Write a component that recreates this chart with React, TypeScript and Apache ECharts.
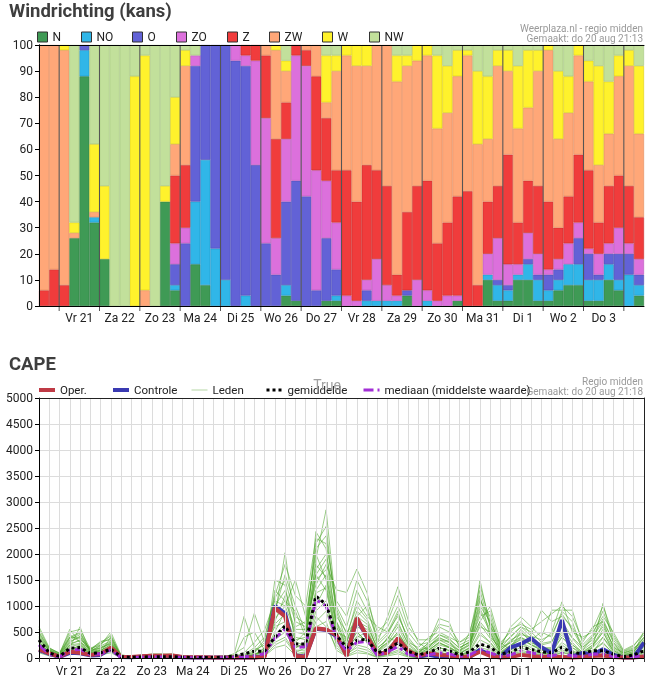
import React, { useEffect, useRef } from 'react';
import * as echarts from 'echarts';

const directionNames = ['N', 'NO', 'O', 'ZO', 'Z', 'ZW', 'W', 'NW'];
const dayLabels = ['Vr 21', 'Za 22', 'Zo 23', 'Ma 24', 'Di 25', 'Wo 26', 'Do 27', 'Vr 28', 'Za 29', 'Zo 30', 'Ma 31', 'Di 1', 'Wo 2', 'Do 3'];

// Windrichting: kans (%) per 6-uurs blok
const windN = [0, 0, 0, 26, 88, 32, 18, 0, 0, 0, 0, 0, 40, 6, 0, 16, 8, 0, 0, 0, 0, 0, 0, 0, 4, 2, 0, 0, 2, 2, 0, 0, 0, 0, 0, 0, 4, 0, 0, 0, 0, 2, 0, 0, 10, 2, 2, 10, 10, 2, 2, 6, 8, 8, 2, 2, 10, 6, 0, 4];
const windNO = [0, 0, 0, 0, 10, 2, 0, 0, 0, 0, 0, 0, 0, 2, 0, 24, 48, 22, 10, 0, 4, 0, 0, 0, 4, 0, 0, 0, 0, 2, 0, 0, 2, 2, 2, 2, 0, 0, 2, 0, 0, 0, 0, 0, 2, 6, 4, 2, 6, 8, 4, 4, 8, 8, 8, 8, 6, 4, 12, 4];
const windO = [0, 0, 0, 0, 2, 0, 0, 0, 0, 0, 0, 0, 0, 8, 24, 52, 44, 78, 90, 94, 88, 54, 24, 12, 32, 46, 42, 6, 24, 10, 0, 0, 4, 0, 0, 0, 2, 0, 0, 0, 0, 0, 0, 0, 0, 2, 2, 0, 2, 2, 6, 4, 0, 10, 10, 2, 4, 10, 8, 4];
const windZO = [0, 0, 0, 0, 0, 0, 0, 0, 0, 0, 0, 0, 0, 8, 6, 4, 0, 0, 0, 6, 4, 40, 48, 14, 24, 48, 50, 46, 22, 18, 4, 2, 4, 16, 6, 2, 0, 10, 4, 2, 4, 2, 0, 0, 8, 16, 8, 4, 10, 8, 2, 4, 8, 6, 2, 8, 4, 10, 4, 6];
const windZ = [6, 14, 8, 0, 0, 0, 0, 0, 0, 0, 0, 0, 0, 26, 24, 0, 0, 0, 0, 0, 4, 6, 24, 38, 14, 4, 6, 36, 24, 20, 48, 38, 44, 34, 38, 8, 30, 36, 42, 22, 28, 38, 44, 8, 20, 20, 42, 16, 20, 26, 26, 12, 18, 26, 30, 12, 22, 20, 22, 16];
const windZW = [94, 86, 90, 2, 0, 2, 0, 0, 0, 0, 6, 0, 0, 12, 38, 0, 0, 0, 0, 0, 0, 0, 4, 34, 12, 0, 2, 12, 6, 38, 44, 52, 38, 48, 54, 74, 56, 48, 48, 44, 42, 46, 52, 54, 24, 46, 32, 36, 28, 44, 58, 34, 32, 38, 34, 22, 20, 38, 46, 32];
const windW = [0, 0, 2, 4, 0, 26, 28, 0, 0, 88, 90, 0, 6, 18, 6, 0, 0, 0, 0, 0, 0, 0, 0, 2, 4, 0, 0, 0, 18, 6, 4, 8, 8, 0, 0, 10, 4, 6, 4, 28, 18, 10, 2, 28, 24, 6, 8, 24, 22, 8, 2, 26, 14, 4, 8, 38, 20, 8, 6, 26];
const windNW = [0, 0, 0, 68, 0, 38, 54, 100, 100, 12, 4, 100, 54, 20, 2, 4, 0, 0, 0, 0, 0, 0, 0, 0, 6, 0, 0, 0, 4, 4, 0, 0, 0, 0, 0, 4, 4, 0, 0, 4, 8, 2, 2, 10, 12, 2, 2, 8, 2, 2, 0, 10, 12, 0, 6, 8, 14, 4, 2, 8];

// CAPE per 6 uur
const capeOper = [167, 90, 25, 120, 100, 60, 75, 200, 25, 20, 35, 45, 45, 50, 20, 15, 15, 10, 10, 10, 10, 10, 20, 960, 800, 40, 20, 570, 550, 440, 40, 770, 410, 80, 100, 380, 140, 40, 90, 60, 50, 20, 30, 120, 40, 10, 20, 60, 40, 20, 30, 20, 10, 20, 40, 50, 20, 10, 10, 30];
const capeControle = [150, 80, 20, 100, 90, 50, 60, 180, 20, 15, 25, 35, 35, 40, 15, 10, 10, 8, 8, 8, 10, 10, 40, 1000, 860, 50, 30, 560, 540, 420, 50, 750, 400, 70, 110, 360, 120, 30, 60, 25, 25, 15, 15, 154, 60, 15, 205, 270, 378, 205, 90, 731, 25, 100, 60, 167, 60, 10, 10, 295];
const capeMean = [346, 100, 30, 185, 200, 90, 100, 170, 25, 15, 20, 25, 25, 25, 15, 10, 10, 10, 15, 40, 80, 130, 130, 400, 620, 270, 270, 1190, 1030, 440, 200, 340, 360, 100, 160, 290, 130, 60, 110, 185, 140, 60, 120, 270, 205, 75, 120, 205, 165, 120, 100, 205, 100, 90, 140, 140, 75, 25, 60, 140];
const capeMedian = [250, 70, 20, 150, 170, 70, 80, 150, 15, 10, 15, 20, 20, 20, 10, 5, 5, 5, 5, 10, 20, 50, 80, 380, 560, 200, 220, 1120, 1000, 380, 140, 300, 320, 50, 120, 220, 70, 30, 60, 100, 80, 30, 60, 165, 100, 30, 60, 140, 100, 60, 40, 90, 40, 40, 70, 80, 30, 10, 20, 60];

// Ensembleleden (selectie)
const member01 = [420, 150, 60, 300, 420, 120, 200, 310, 40, 20, 40, 60, 50, 40, 20, 10, 5, 5, 5, 10, 30, 60, 120, 700, 1200, 400, 350, 1900, 2850, 900, 300, 900, 700, 150, 300, 600, 200, 60, 200, 400, 300, 80, 200, 900, 500, 100, 200, 500, 300, 200, 150, 600, 300, 100, 250, 500, 120, 30, 80, 300];
const member02 = [600, 200, 80, 550, 300, 180, 250, 500, 60, 30, 20, 40, 60, 80, 30, 10, 5, 0, 0, 0, 10, 20, 60, 1500, 1400, 300, 500, 1600, 1300, 400, 150, 500, 300, 60, 150, 300, 100, 40, 120, 250, 200, 60, 100, 1500, 600, 150, 300, 400, 250, 150, 100, 400, 200, 60, 200, 1050, 300, 50, 100, 510];
const member03 = [250, 80, 40, 200, 600, 100, 150, 250, 30, 10, 10, 30, 40, 30, 15, 5, 0, 0, 0, 50, 800, 200, 100, 500, 900, 200, 300, 2430, 2100, 600, 200, 400, 500, 100, 400, 300, 150, 100, 300, 760, 690, 200, 300, 700, 990, 300, 150, 300, 200, 100, 80, 300, 150, 40, 100, 400, 100, 20, 60, 200];
const member04 = [300, 120, 30, 250, 350, 200, 100, 400, 20, 20, 30, 50, 30, 20, 10, 5, 0, 0, 20, 80, 200, 860, 300, 800, 2025, 600, 700, 1400, 1800, 1310, 1260, 1710, 1250, 300, 800, 1370, 730, 300, 150, 300, 200, 100, 500, 1200, 400, 200, 600, 790, 600, 400, 920, 920, 920, 300, 600, 700, 200, 100, 150, 400];
const member05 = [150, 50, 20, 100, 150, 60, 80, 150, 10, 5, 10, 20, 20, 10, 5, 0, 0, 0, 0, 0, 0, 20, 80, 300, 400, 100, 200, 900, 1100, 300, 80, 200, 150, 30, 80, 150, 40, 10, 40, 100, 80, 20, 60, 200, 150, 40, 100, 150, 100, 60, 40, 100, 60, 20, 60, 100, 40, 10, 20, 80];
const member06 = [500, 180, 100, 400, 500, 150, 320, 350, 50, 30, 50, 80, 70, 60, 30, 20, 10, 10, 10, 30, 100, 300, 540, 1100, 1000, 1500, 800, 2000, 1500, 500, 400, 1100, 800, 600, 500, 900, 300, 200, 400, 500, 400, 300, 400, 1000, 700, 250, 400, 600, 500, 300, 500, 1080, 500, 400, 500, 800, 500, 150, 250, 450];
const member07 = [200, 100, 50, 150, 250, 80, 120, 200, 20, 10, 15, 25, 30, 25, 10, 5, 0, 0, 0, 0, 10, 50, 200, 600, 700, 300, 250, 1200, 1000, 400, 100, 300, 400, 50, 200, 400, 100, 50, 100, 200, 150, 50, 150, 500, 300, 80, 200, 300, 150, 100, 80, 200, 100, 50, 150, 300, 80, 20, 40, 150];
const member08 = [350, 130, 60, 350, 450, 150, 200, 280, 40, 20, 25, 45, 55, 45, 20, 10, 5, 5, 5, 20, 50, 150, 250, 1000, 1300, 700, 600, 2200, 2530, 800, 500, 700, 600, 200, 350, 700, 250, 100, 250, 350, 250, 150, 250, 1100, 800, 150, 350, 450, 400, 250, 300, 700, 400, 200, 350, 600, 250, 80, 120, 350];
const member09 = [100, 40, 10, 80, 120, 40, 60, 100, 5, 0, 5, 10, 10, 5, 0, 0, 0, 0, 0, 0, 0, 10, 40, 200, 250, 50, 100, 600, 700, 150, 30, 100, 80, 10, 40, 80, 20, 5, 20, 60, 40, 10, 30, 150, 80, 20, 50, 100, 60, 30, 20, 60, 30, 10, 30, 80, 20, 5, 10, 40];
const member10 = [450, 160, 70, 450, 300, 120, 250, 450, 30, 15, 35, 55, 45, 35, 15, 5, 0, 0, 0, 10, 400, 500, 150, 1300, 1100, 900, 400, 1700, 2000, 1000, 600, 1300, 900, 400, 600, 1000, 500, 250, 300, 600, 500, 250, 350, 1300, 600, 300, 500, 700, 450, 920, 700, 800, 600, 250, 450, 900, 400, 120, 200, 300];
const member11 = [280, 90, 40, 250, 280, 100, 150, 220, 25, 10, 20, 35, 35, 30, 10, 5, 0, 0, 0, 0, 20, 80, 100, 400, 600, 200, 300, 1000, 1400, 500, 200, 500, 300, 100, 250, 500, 150, 80, 150, 300, 200, 100, 200, 600, 500, 100, 250, 350, 250, 150, 150, 400, 200, 100, 200, 400, 150, 40, 80, 250];
const member12 = [380, 140, 50, 320, 400, 160, 280, 380, 50, 25, 30, 50, 60, 50, 25, 10, 5, 0, 0, 5, 30, 100, 300, 900, 1600, 1000, 500, 1500, 1700, 700, 350, 800, 1000, 300, 500, 800, 400, 150, 200, 450, 350, 200, 300, 800, 900, 200, 300, 550, 350, 500, 400, 900, 700, 150, 400, 700, 350, 100, 180, 400];
const member13 = [200, 70, 30, 180, 200, 90, 90, 180, 15, 5, 10, 15, 15, 15, 5, 0, 0, 0, 0, 0, 5, 30, 60, 350, 500, 150, 150, 700, 900, 250, 60, 250, 200, 40, 120, 200, 60, 20, 80, 150, 100, 40, 80, 350, 250, 60, 120, 200, 120, 80, 60, 150, 80, 30, 100, 200, 60, 15, 40, 120];
const member14 = [550, 190, 90, 500, 550, 180, 300, 420, 60, 30, 45, 70, 80, 70, 30, 15, 10, 5, 5, 20, 60, 200, 400, 1200, 1800, 1200, 1000, 2300, 2200, 1100, 800, 1500, 1100, 500, 700, 1200, 600, 350, 350, 650, 600, 300, 450, 1400, 700, 250, 550, 650, 550, 700, 850, 1000, 800, 350, 550, 1000, 450, 130, 230, 500];
const member15 = [320, 110, 45, 280, 330, 110, 170, 300, 30, 15, 25, 40, 40, 35, 15, 5, 0, 0, 0, 5, 15, 60, 150, 750, 1000, 500, 450, 1300, 1600, 600, 250, 600, 500, 150, 300, 450, 200, 100, 180, 350, 300, 120, 250, 700, 450, 120, 250, 400, 300, 200, 200, 500, 250, 120, 250, 550, 180, 50, 100, 280];
const member16 = [180, 60, 25, 130, 180, 70, 110, 130, 10, 5, 10, 20, 20, 15, 5, 0, 0, 0, 0, 0, 0, 15, 50, 250, 350, 80, 120, 800, 600, 200, 40, 150, 100, 20, 60, 120, 30, 10, 50, 120, 60, 30, 50, 250, 200, 50, 80, 120, 80, 50, 30, 120, 60, 20, 80, 150, 40, 10, 30, 100];
const member17 = [300, 100, 50, 220, 260, 90, 140, 260, 20, 10, 15, 30, 30, 25, 10, 5, 0, 0, 0, 0, 10, 40, 120, 650, 850, 350, 400, 1600, 1900, 700, 220, 650, 550, 120, 280, 500, 180, 60, 150, 280, 220, 90, 180, 650, 380, 90, 220, 380, 260, 180, 180, 450, 260, 80, 220, 500, 150, 30, 70, 220];
const member18 = [480, 170, 70, 380, 480, 140, 230, 330, 40, 20, 30, 45, 50, 40, 20, 10, 5, 5, 5, 15, 40, 120, 350, 1150, 1500, 800, 650, 2100, 2350, 950, 450, 1000, 750, 250, 450, 850, 350, 150, 280, 450, 380, 180, 320, 1150, 650, 180, 420, 600, 420, 350, 450, 850, 550, 200, 420, 750, 300, 90, 160, 380];
const member19 = [230, 80, 35, 170, 230, 70, 100, 170, 15, 5, 10, 20, 20, 20, 5, 0, 0, 0, 0, 0, 5, 25, 70, 450, 650, 200, 250, 1250, 1350, 450, 150, 420, 350, 70, 180, 320, 90, 30, 100, 200, 140, 50, 120, 450, 300, 60, 160, 250, 160, 100, 100, 250, 120, 50, 140, 280, 90, 20, 50, 160];
const member20 = [400, 140, 55, 400, 380, 130, 190, 270, 35, 15, 25, 40, 45, 40, 15, 5, 0, 0, 0, 5, 20, 70, 180, 850, 1100, 550, 550, 1800, 1550, 650, 300, 800, 650, 180, 380, 650, 280, 120, 220, 380, 320, 140, 280, 950, 550, 150, 320, 500, 330, 280, 320, 650, 380, 150, 300, 650, 220, 60, 130, 320];

const directionColors = ['#3f9a55', '#30b6e8', '#6262d6', '#dc70dc', '#f03c3c', '#ffa778', '#fff22c', '#c2e09b'];
const directionBorders = ['#2f7d43', '#2095c4', '#4b4bb3', '#bb55bb', '#c92a2a', '#e2895a', '#dccf12', '#a4c47e'];
const topLegendLeft = [37, 81, 132, 176, 227, 269, 322, 369];

export default function App() {
  const ref = useRef<HTMLDivElement>(null);

  useEffect(() => {
    const chart = echarts.init(ref.current!, undefined, { renderer: 'svg' });
    const windData = [windN, windNO, windO, windZO, windZ, windZW, windW, windNW];
    const members = [member01, member02, member03, member04, member05, member06, member07, member08, member09, member10, member11, member12, member13, member14, member15, member16, member17, member18, member19, member20];
    const barCats = windN.map((_, i) => String(i));
    const capeCats = capeOper.map((_, i) => String(i));
    const dayBounds = barCats.map((_, i) => i).filter((i) => i % 4 === 2).map((i) => [i, 0]);
    const axisText = { fontSize: 12, color: '#222', fontFamily: 'Roboto' };

    const windSeries = windData.map((arr, k) => ({
      name: directionNames[k],
      type: 'bar',
      stack: 'wind',
      xAxisIndex: 0,
      yAxisIndex: 0,
      barCategoryGap: '0%',
      barGap: '0%',
      data: arr.map((v) => (v === 0 ? '-' : v)),
      itemStyle: { color: directionColors[k], borderColor: directionBorders[k], borderWidth: 0.6 },
      emphasis: { disabled: true },
    }));

    const memberSeries = members.map((arr) => ({
      name: 'Leden',
      type: 'line',
      xAxisIndex: 3,
      yAxisIndex: 2,
      data: arr,
      symbol: 'none',
      lineStyle: { color: '#48a226', width: 1, opacity: 0.55 },
      itemStyle: { color: '#9fcf8a' },
      z: 2,
    }));

    const lineLegend = (name: string, left: number, lineStyle: any) => ({
      data: [name], left, top: 384, padding: 0, itemWidth: 16, itemHeight: 10, selectedMode: false,
      itemStyle: { opacity: 0, borderWidth: 0 },
      lineStyle,
      textStyle: { fontSize: 11.5, color: '#222' },
    });

    const option: any = {
      animation: false,
      textStyle: { fontFamily: 'Roboto' },
      title: [
        { text: 'Windrichting (kans)', left: 9, top: 1, padding: 0, textStyle: { fontSize: 18.5, fontWeight: 'bold', color: '#3e3e3e', fontFamily: 'Roboto' } },
        { text: 'CAPE', left: 9, top: 354, padding: 0, textStyle: { fontSize: 18.5, fontWeight: 'bold', color: '#3e3e3e', fontFamily: 'Roboto' } },
      ],
      legend: [
        ...directionNames.map((n, k) => ({
          data: [n], left: topLegendLeft[k], top: 31, padding: 0, icon: 'rect', itemWidth: 10, itemHeight: 10,
          itemStyle: { borderColor: '#333', borderWidth: 1 }, selectedMode: false,
          textStyle: { fontSize: 12, color: '#222' },
        })),
        lineLegend('Oper.', 37, { width: 4 }),
        lineLegend('Controle', 111, { width: 4 }),
        lineLegend('Leden', 191, { width: 1, color: '#b5d6a5', opacity: 1 }),
        lineLegend('gemiddelde', 265, { width: 3 }),
        lineLegend('mediaan (middelste waarde)', 362, { width: 3 }),
      ],
      grid: [
        { left: 39, right: 16, top: 45, height: 261, containLabel: false },
        { left: 39, right: 16, top: 398, height: 260, containLabel: false },
      ],
      xAxis: [
        {
          type: 'category', gridIndex: 0, data: barCats, position: 'bottom', z: 10,
          axisLine: { lineStyle: { color: '#000', width: 1 } },
          axisTick: { show: false },
          axisLabel: { show: false },
          splitLine: { show: false },
        },
        {
          type: 'value', gridIndex: 0, min: 0, max: 60, interval: 4, position: 'bottom',
          axisLine: { show: false }, axisTick: { show: false }, splitLine: { show: false },
          axisLabel: { ...axisText, margin: 6, formatter: (v: number) => dayLabels[v / 4 - 1] || '' },
        },
        {
          type: 'value', gridIndex: 0, min: 0, max: 60, position: 'top', z: 10,
          axisLine: { lineStyle: { color: '#000', width: 1 } }, axisTick: { show: false }, axisLabel: { show: false }, splitLine: { show: false },
        },
        {
          type: 'category', gridIndex: 1, data: capeCats, boundaryGap: false, position: 'bottom', z: 10,
          axisLine: { lineStyle: { color: '#000', width: 1 } },
          axisTick: { show: true, interval: 0, length: 4, lineStyle: { color: '#333' } },
          axisLabel: {
            ...axisText, margin: 7,
            interval: (i: number) => i % 4 === 3,
            formatter: (_v: string, i: number) => dayLabels[(i - 3) / 4] || '',
          },
          splitLine: { show: true, interval: 0, lineStyle: { color: '#dcdcdc', width: 1 } },
        },
        {
          type: 'category', gridIndex: 1, data: capeCats, boundaryGap: false, position: 'bottom',
          axisLine: { show: false }, axisTick: { show: false }, axisLabel: { show: false },
          splitLine: { show: true, interval: (i: number) => i % 4 === 1, lineStyle: { color: '#555', width: 1 } },
        },
        {
          type: 'value', gridIndex: 1, min: 0, max: 59, position: 'top', z: 10,
          axisLine: { lineStyle: { color: '#222', width: 1 } }, axisTick: { show: false }, axisLabel: { show: false }, splitLine: { show: false },
        },
      ],
      yAxis: [
        {
          type: 'value', gridIndex: 0, min: 0, max: 100, interval: 10, z: 10,
          axisLine: { show: true, lineStyle: { color: '#000' } },
          axisTick: { show: true, length: 4, lineStyle: { color: '#000' } },
          axisLabel: { ...axisText, margin: 6 },
          splitLine: { show: false },
        },
        {
          type: 'value', gridIndex: 0, min: 0, max: 100, position: 'right', z: 10,
          axisLine: { show: true, lineStyle: { color: '#000' } }, axisTick: { show: false }, axisLabel: { show: false }, splitLine: { show: false },
        },
        {
          type: 'value', gridIndex: 1, min: 0, max: 5000, interval: 500, z: 10,
          axisLine: { show: true, lineStyle: { color: '#000' } },
          axisTick: { show: true, length: 4, lineStyle: { color: '#000' } },
          axisLabel: { ...axisText, margin: 6, formatter: (v: number) => String(v) },
          splitLine: { show: true, lineStyle: { color: '#dcdcdc' } },
        },
        {
          type: 'value', gridIndex: 1, min: 0, max: 5000, position: 'right', z: 10,
          axisLine: { show: true, lineStyle: { color: '#222' } }, axisTick: { show: false }, axisLabel: { show: false }, splitLine: { show: false },
        },
      ],
      series: [
        ...windSeries,
        {
          type: 'custom',
          xAxisIndex: 0,
          yAxisIndex: 0,
          silent: true,
          clip: false,
          z: 5,
          encode: { x: 0, y: 1 },
          data: dayBounds,
          renderItem: (_p: any, api: any) => {
            const i = api.value(0);
            const base = api.coord([i, 0]);
            const top = api.coord([i, 100]);
            const w = api.size([1, 0])[0];
            const x = base[0] - w / 2;
            return {
              type: 'line',
              shape: { x1: x, y1: top[1], x2: x, y2: base[1] + 5 },
              style: { stroke: '#555', lineWidth: 1 },
            };
          },
        },
        ...memberSeries,
        {
          name: 'Controle', type: 'line', xAxisIndex: 3, yAxisIndex: 2, data: capeControle, symbol: 'none', z: 4,
          lineStyle: { color: '#3a3ab2', width: 4 }, itemStyle: { color: '#3a3ab2' },
        },
        {
          name: 'Oper.', type: 'line', xAxisIndex: 3, yAxisIndex: 2, data: capeOper, symbol: 'none', z: 5,
          lineStyle: { color: '#bf3a45', width: 4 }, itemStyle: { color: '#bf3a45' },
        },
        {
          name: 'mediaan (middelste waarde)', type: 'line', xAxisIndex: 3, yAxisIndex: 2, data: capeMedian, symbol: 'none', z: 6,
          lineStyle: { color: '#a22fd6', width: 3, type: [10, 4, 3, 4] }, itemStyle: { color: '#a22fd6' },
        },
        {
          name: 'gemiddelde', type: 'line', xAxisIndex: 3, yAxisIndex: 2, data: capeMean, symbol: 'none', z: 7,
          lineStyle: { color: '#000', width: 3, type: [3, 3] }, itemStyle: { color: '#000' },
        },
      ],
      graphic: [
        { type: 'text', x: 643, y: 28, style: { text: 'Weerplaza.nl - regio midden', align: 'right', verticalAlign: 'middle', fill: '#9a9a9a', fontSize: 10, fontFamily: 'Roboto' } },
        { type: 'text', x: 643, y: 38, style: { text: 'Gemaakt: do 20 aug 21:13', align: 'right', verticalAlign: 'middle', fill: '#9a9a9a', fontSize: 10, fontFamily: 'Roboto' } },
        { type: 'text', x: 643, y: 381, style: { text: 'Regio midden', align: 'right', verticalAlign: 'middle', fill: '#9a9a9a', fontSize: 10, fontFamily: 'Roboto' } },
        { type: 'text', x: 643, y: 391, style: { text: 'Gemaakt: do 20 aug 21:18', align: 'right', verticalAlign: 'middle', fill: '#9a9a9a', fontSize: 10, fontFamily: 'Roboto' } },
        { type: 'text', x: 327, y: 385, z: 20, style: { text: 'True', align: 'center', verticalAlign: 'middle', fill: '#a0a0a0', fontSize: 14, fontFamily: 'Roboto' } },
      ],
    };

    chart.setOption(option);
    return () => chart.dispose();
  }, []);

  return <div ref={ref} style={{ position: 'fixed', left: 0, top: 0, width: 660, height: 687 }} />;
}
